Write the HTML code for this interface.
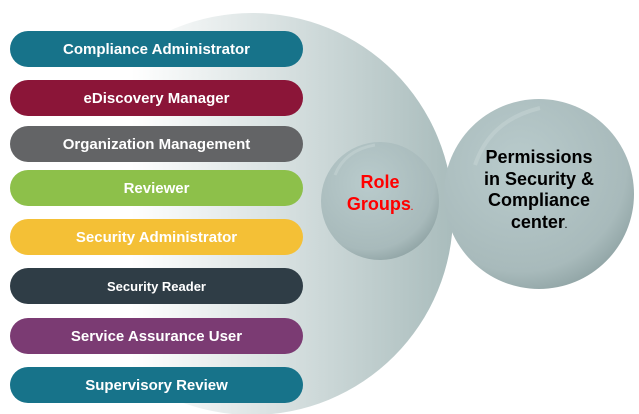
<!DOCTYPE html>
<html><head><style>
body{margin:0;width:639px;height:414px;background:#fff;position:relative;overflow:hidden;font-family:"Liberation Sans",sans-serif;font-weight:bold}
.pill{position:absolute;left:10px;width:293px;height:36px;border-radius:18px;color:#fff;font-size:15px;text-align:center;line-height:38px}
.t{position:absolute;text-align:center;font-weight:bold}
</style></head><body>
<svg width="639" height="414" style="position:absolute;left:0;top:0">
<defs>
<linearGradient id="g1" x1="0" x2="1" y1="0" y2="0"><stop offset="0.2" stop-color="#ffffff"/><stop offset="0.65" stop-color="#cfdada"/><stop offset="1" stop-color="#a9bcbc"/></linearGradient>
<radialGradient id="g2" cx="0.4" cy="0.35" r="0.7"><stop offset="0" stop-color="#b9cbcc"/><stop offset="0.8" stop-color="#a8babb"/><stop offset="1" stop-color="#8fa3a4"/></radialGradient>
</defs>
<circle cx="252" cy="214" r="201" fill="url(#g1)"/>
<circle cx="380" cy="201" r="59" fill="url(#g2)"/>
<circle cx="539" cy="194" r="95" fill="url(#g2)"/>
<path d="M335 175 Q345 150 375 145" stroke="#c8d6d6" stroke-width="3" fill="none" opacity="0.5"/>
<path d="M475 165 Q490 120 540 108" stroke="#c8d6d6" stroke-width="4" fill="none" opacity="0.5"/>
</svg>
<div class="pill" style="top:31px;background:#17738a">Compliance Administrator</div>
<div class="pill" style="top:80px;background:#8b1538">eDiscovery Manager</div>
<div class="pill" style="top:126px;background:#636466">Organization Management</div>
<div class="pill" style="top:170px;background:#8dc04a">Reviewer</div>
<div class="pill" style="top:219px;background:#f4c036">Security Administrator</div>
<div class="pill" style="top:268px;background:#2f3d46;font-size:13px">Security Reader</div>
<div class="pill" style="top:318px;background:#7b3b73">Service Assurance User</div>
<div class="pill" style="top:367px;background:#17738a">Supervisory Review</div>
<div class="t" style="left:330px;top:171px;width:100px;color:#f00;font-size:18px;line-height:22px">Role<br>Groups<span style="font-size:8px">.</span></div>
<div class="t" style="left:459px;top:147px;width:160px;color:#000;font-size:18px;line-height:21.5px">Permissions<br>in Security &amp;<br>Compliance<br>center<span style="font-size:8px">.</span></div>
</body></html>
